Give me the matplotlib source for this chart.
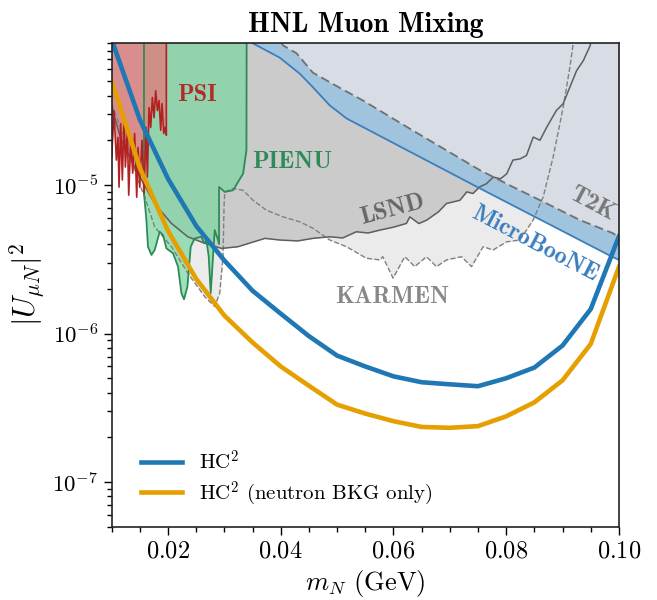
import numpy as np
import matplotlib.pyplot as plt
from matplotlib.ticker import MultipleLocator, LogLocator, NullFormatter

plt.rcParams['font.family'] = 'cmr10'
plt.rcParams['mathtext.fontset'] = 'cm'
plt.rcParams['axes.formatter.use_mathtext'] = True

# HC^2 sensitivity curves
mass = [0.010, 0.015, 0.020, 0.025, 0.030, 0.035, 0.040, 0.045, 0.050, 0.055,
        0.060, 0.065, 0.070, 0.075, 0.080, 0.085, 0.090, 0.095, 0.100]
hc2 = [9.5e-5, 2.75e-5, 1.1e-5, 5.3e-6, 3.1e-6, 1.94e-6, 1.36e-6, 9.6e-7, 7.1e-7, 6.0e-7,
       5.15e-7, 4.7e-7, 4.55e-7, 4.42e-7, 5.0e-7, 5.9e-7, 8.3e-7, 1.46e-6, 4.5e-6]
hc2_neutron = [5.0e-5, 1.3e-5, 4.9e-6, 2.33e-6, 1.32e-6, 8.7e-7, 6.0e-7, 4.45e-7, 3.32e-7, 2.89e-7,
               2.57e-7, 2.35e-7, 2.32e-7, 2.38e-7, 2.77e-7, 3.44e-7, 4.84e-7, 8.5e-7, 2.8e-6]

# existing limits (lower edges of excluded regions)
psi_m = [0.0100, 0.01041, 0.01083, 0.01112, 0.0113, 0.0116, 0.01189, 0.01219, 0.01243, 0.01278,
         0.01302, 0.01337, 0.01373, 0.01408, 0.01444, 0.01467, 0.01497, 0.01538, 0.01574, 0.01609,
         0.01633, 0.01663, 0.01692, 0.01722, 0.01751, 0.01781, 0.01811, 0.0184, 0.0187, 0.01893,
         0.01923, 0.01947, 0.0197]
psi_u = [1.54e-5, 3.17e-5, 1.47e-5, 2.09e-5, 9.66e-6, 2.59e-5, 1.08e-5, 2.84e-5, 1.32e-5, 2.33e-5,
         8.53e-6, 2.0e-5, 1.2e-5, 2.22e-5, 8.27e-6, 1.79e-5, 9.66e-6, 2.0e-5, 8.8e-6, 2.44e-5,
         1.13e-5, 3.32e-5, 2.44e-5, 3.88e-5, 2.84e-5, 4.31e-5, 3.17e-5, 3.7e-5, 2.33e-5, 3.53e-5,
         2.22e-5, 2.44e-5, 2.16e-5]

pienu_m = [0.01573, 0.01616, 0.01644, 0.01705, 0.01763, 0.01852, 0.01911, 0.01971, 0.02088, 0.02177,
           0.02237, 0.02283, 0.02344, 0.02402, 0.02473, 0.02592, 0.02638, 0.02681, 0.02722, 0.02757,
           0.02798, 0.02828, 0.02887, 0.02905, 0.02905, 0.03006, 0.03153, 0.03331, 0.03391, 0.03395]
pienu_u = [8.76e-6, 5.8e-6, 3.84e-6, 3.38e-6, 3.65e-6, 4.84e-6, 4.6e-6, 3.74e-6, 3.47e-6, 2.82e-6,
           1.87e-6, 1.70e-6, 2.07e-6, 3.84e-6, 4.37e-6, 4.48e-6, 4.05e-6, 4.26e-6, 3.29e-6, 1.87e-6,
           3.29e-6, 4.97e-6, 4.26e-6, 4.0e-6, 9.7e-6, 8.98e-6, 9.21e-6, 1.19e-5, 1.71e-5, 1.2e-4]

lsnd_m = [0.0100, 0.0117, 0.0147, 0.0176, 0.0206, 0.0235, 0.0265, 0.0295, 0.0324, 0.0372,
          0.0398, 0.0430, 0.0457, 0.0487, 0.0510, 0.0534, 0.0555, 0.0576, 0.0600, 0.0623,
          0.0629, 0.0645, 0.0659, 0.0680, 0.0694, 0.0718, 0.0730, 0.0741, 0.0753, 0.0765,
          0.0777, 0.0790, 0.0801, 0.0812, 0.0825, 0.0836, 0.0848, 0.0860, 0.0872, 0.0889,
          0.0901, 0.0913, 0.0925, 0.0937, 0.0949, 0.0955]
lsnd_u = [3.33e-5, 2.0e-5, 1.19e-5, 7.5e-6, 5.51e-6, 4.48e-6, 4.05e-6, 3.74e-6, 3.84e-6, 4.37e-6,
          4.26e-6, 4.2e-6, 4.37e-6, 4.48e-6, 4.4e-6, 4.84e-6, 4.75e-6, 4.97e-6, 5.2e-6, 5.51e-6,
          6.1e-6, 5.5e-6, 5.8e-6, 6.6e-6, 7.5e-6, 7.89e-6, 8.98e-6, 8.76e-6, 9.7e-6, 1.02e-5,
          1.13e-5, 1.1e-5, 1.19e-5, 1.47e-5, 1.5e-5, 1.58e-5, 2.1e-5, 2.0e-5, 2.45e-5, 3.17e-5,
          3.52e-5, 4.55e-5, 5.89e-5, 6.88e-5, 8.67e-5, 1.2e-4]

karmen_m = [0.0100, 0.0120, 0.0150, 0.01586, 0.01763, 0.0206, 0.02354, 0.02651, 0.02828, 0.02917,
            0.02976, 0.02993, 0.03006, 0.03153, 0.03331, 0.03508, 0.03746, 0.0404, 0.04337, 0.04568,
            0.0487, 0.05166, 0.05521, 0.05757, 0.0581, 0.05993, 0.06201, 0.06378, 0.06586, 0.06763,
            0.06941, 0.07207, 0.07385, 0.07591, 0.07768, 0.08006, 0.08242, 0.08478, 0.08656, 0.08833,
            0.09011, 0.0913, 0.09188, 0.0921]
karmen_u = [3.5e-5, 2.2e-5, 1.0e-5, 8.3e-6, 5.22e-6, 3.84e-6, 2.54e-6, 1.77e-6, 1.52e-6, 1.87e-6,
            3.29e-6, 7.11e-6, 8.98e-6, 9.46e-6, 9.21e-6, 7.89e-6, 6.76e-6, 6.1e-6, 5.65e-6, 5.12e-6,
            4.26e-6, 3.84e-6, 3.21e-6, 3.13e-6, 3.29e-6, 2.36e-6, 3.29e-6, 2.82e-6, 3.29e-6, 2.82e-6,
            3.13e-6, 3.29e-6, 2.82e-6, 3.84e-6, 3.65e-6, 4.14e-6, 4.26e-6, 5.8e-6, 8.3e-6, 1.54e-5,
            3.33e-5, 6.19e-5, 8.9e-5, 1.2e-4]

uboone_m = [0.0340, 0.0350, 0.0398, 0.0434, 0.0457, 0.0487, 0.0517, 0.0753, 0.0989, 0.1000]
uboone_u = [1.2e-4, 9.0e-5, 7.2e-5, 5.6e-5, 4.55e-5, 3.43e-5, 2.8e-5, 9.5e-6, 3.27e-6, 3.13e-6]

t2k_m = [0.0390, 0.0404, 0.0428, 0.0457, 0.0505, 0.0546, 0.0634, 0.0694, 0.0753, 0.0812,
         0.0872, 0.0931, 0.0989, 0.1000]
t2k_u = [1.1e-4, 8.7e-5, 7.7e-5, 5.7e-5, 4.5e-5, 3.7e-5, 2.33e-5, 1.71e-5, 1.26e-5, 9.7e-6,
         7.5e-6, 5.8e-6, 4.74e-6, 4.46e-6]

TOP = 1e-3

fig, ax = plt.subplots(figsize=(6.57, 6.0), dpi=100)
fig.subplots_adjust(left=0.170, right=0.942, bottom=0.122, top=0.928)

# filled regions
ax.fill_between(karmen_m, karmen_u, TOP, color='#ebebeb', lw=0, zorder=1.0)
ax.fill_between(lsnd_m, lsnd_u, TOP, color='#cbcbcb', lw=0, zorder=1.1)
ax.fill_between(uboone_m, uboone_u, TOP, color='#a0c4de', lw=0, zorder=1.2)
ax.fill_between(t2k_m, t2k_u, TOP, color='#d8dce4', lw=0, zorder=1.3)
ax.fill_between(pienu_m, pienu_u, TOP, color='#7fd7a3', alpha=0.75, lw=0, zorder=1.4)
ax.fill_between(psi_m, psi_u, TOP, color='#df7d7d', alpha=0.79, lw=0, zorder=1.5)

# boundaries
ax.plot(karmen_m, karmen_u, color='#808080', ls='--', lw=1.0, zorder=2)
ax.plot(lsnd_m, lsnd_u, color='#5e5e5e', lw=1.1, zorder=2)
ax.plot(uboone_m, uboone_u, color='#3b7fbf', lw=1.3, zorder=2)
ax.plot(t2k_m, t2k_u, color='#707070', ls=(0, (5, 2.5)), lw=1.3, zorder=2)
ax.plot([pienu_m[0]] + pienu_m, [TOP] + pienu_u, color='#2e8b57', lw=1.3, zorder=2.1)
ax.plot(psi_m + [psi_m[-1]], psi_u + [TOP], color='#b22222', lw=1.2, zorder=2.1)

# HC^2
ax.plot(mass, hc2, color='#1f77b4', lw=3.3, zorder=3, label=r'HC$^2$')
ax.plot(mass, hc2_neutron, color='#e69f00', lw=3.3, zorder=3, label=r'HC$^2$ (neutron BKG only)')

# region labels
lab = dict(transform=ax.transAxes, fontfamily='cmb10', fontsize=17.5, ha='center', va='center', zorder=4)
ax.text(0.168, 0.893, 'PSI', color='#b22a2a', **lab)
ax.text(0.355, 0.754, 'PIENU', color='#2e8b57', **lab)
ax.text(0.554, 0.655, 'LSND', color='#666666', rotation=15, **lab)
ax.text(0.554, 0.475, 'KARMEN', color='#888888', **lab)
ax.text(0.947, 0.668, 'T2K', color='#777777', rotation=-28, **lab)
ax.text(0.834, 0.585, 'MicroBooNE', color='#3b7fbf', rotation=-27.5, **lab)

ax.set_yscale('log')
ax.set_xlim(0.01, 0.10)
ax.set_ylim(5e-8, 9e-5)

ax.xaxis.set_major_locator(MultipleLocator(0.02))
ax.xaxis.set_minor_locator(MultipleLocator(0.005))
ax.yaxis.set_minor_locator(LogLocator(base=10, subs=np.arange(2, 10)))
ax.yaxis.set_minor_formatter(NullFormatter())
ax.tick_params(which='both', direction='out', width=1.0)
ax.tick_params(axis='x', labelsize=17.5)
ax.tick_params(axis='y', labelsize=16.5)
ax.tick_params(which='major', length=6)
ax.tick_params(which='minor', length=3.5)
for s in ax.spines.values():
    s.set_linewidth(1.2)
    s.set_color('#222222')
    s.set_zorder(5)

ax.set_xlabel(r'$m_N$ (GeV)', fontsize=19)
ax.set_ylabel(r'$|U_{\mu N}|^2$', fontsize=22)
ax.set_title('HNL Muon Mixing', fontfamily='cmb10', fontsize=20, pad=8)

ax.legend(loc='lower left', bbox_to_anchor=(0.02, 0.0), frameon=False, fontsize=15,
          handlelength=2.0, labelspacing=0.3)

fig.savefig('out.png', dpi=100)
